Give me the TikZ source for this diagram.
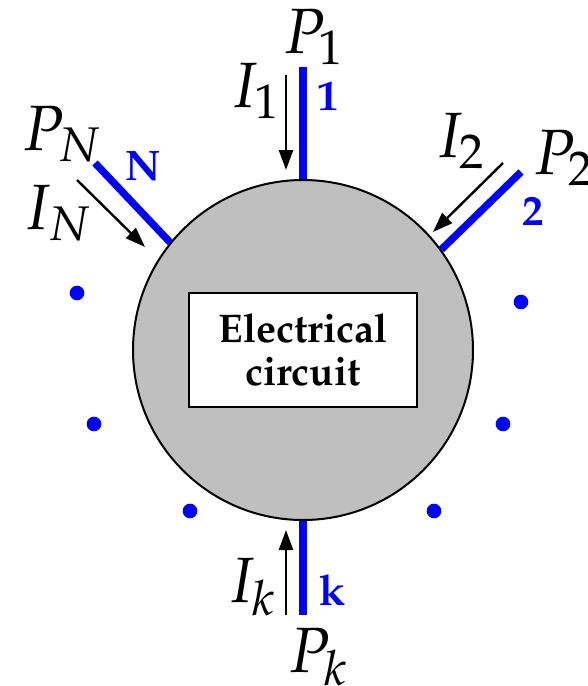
\documentclass[tikz,border=0pt]{standalone}
\usepackage[T1]{fontenc}
\usepackage{mathpazo}
\usetikzlibrary{arrows.meta}
\tikzset{
  port/.style={draw=blue, line width=5.5pt},
  cur/.style={draw=black, line width=1.8pt, -{Triangle[length=15pt,width=10.5pt]}},
  lab/.style={inner sep=0pt, anchor=base west, font=\fontsize{48}{56}\selectfont},
  num/.style={inner sep=0pt, anchor=base west, text=blue, font=\fontsize{32}{38}\selectfont\bfseries},
  dotm/.style={circle, fill=blue, inner sep=0pt, minimum size=11pt},
}
\begin{document}
\begin{tikzpicture}[x=0.75pt,y=-0.75pt]
\useasboundingbox (0,0) rectangle (587,686);
\node[circle, draw, fill=lightgray, line width=1.5pt, minimum size=255pt, inner sep=0pt] (c) at (303,350) {};
\node[draw, fill=white, line width=1.5pt, minimum width=171pt, minimum height=85.5pt, align=center, font=\fontsize{30}{32}\selectfont\bfseries] (box) at (303,350) {Electrical\\circuit};
% ports
\coordinate (t1) at (303,67);
\coordinate (tk) at (303,615);
\coordinate (t2) at (521,172);
\coordinate (tN) at (95,163);
\draw[port] (c.north) -- (t1);
\draw[port] (c.south) -- (tk);
\draw[port] (c.36) -- (t2);
\draw[port] (c.141) -- (tN);
% currents
\coordinate (a1s) at (286,75);  \coordinate (a1e) at (286,170);
\coordinate (aks) at (286,615); \coordinate (ake) at (286,530);
\coordinate (a2s) at (503,163); \coordinate (a2e) at (433,232);
\coordinate (aNs) at (77,180);  \coordinate (aNe) at (145,247);
\draw[cur] (a1s) -- (a1e);
\draw[cur] (aks) -- (ake);
\draw[cur] (a2s) -- (a2e);
\draw[cur] (aNs) -- (aNe);
% labels
\node[lab] (P1) at (283,53) {$P_1$};
\node[lab] (I1) at (230,107) {$I_1$};
\node[num] (n1) at (317,110) {1};
\node[lab] (PN) at (22,150) {$P_N$};
\node[lab] (IN) at (23,229) {$I_N$};
\node[num] (nN) at (125,180) {N};
\node[lab] (I2) at (435,157) {$I_2$};
\node[lab] (P2) at (533,174) {$P_2$};
\node[num] (n2) at (522,225) {2};
\node[lab] (Ik) at (227,602) {$I_k$};
\node[lab] (Pk) at (288,672) {$P_k$};
\node[num] (nk) at (319,605) {k};
% continuation dots
\node[dotm] (d1) at (77,293) {};
\node[dotm] (d2) at (94,424) {};
\node[dotm] (d3) at (190,511) {};
\node[dotm] (d4) at (521,302) {};
\node[dotm] (d5) at (503,424) {};
\node[dotm] (d6) at (434,511) {};
\end{tikzpicture}
\end{document}
